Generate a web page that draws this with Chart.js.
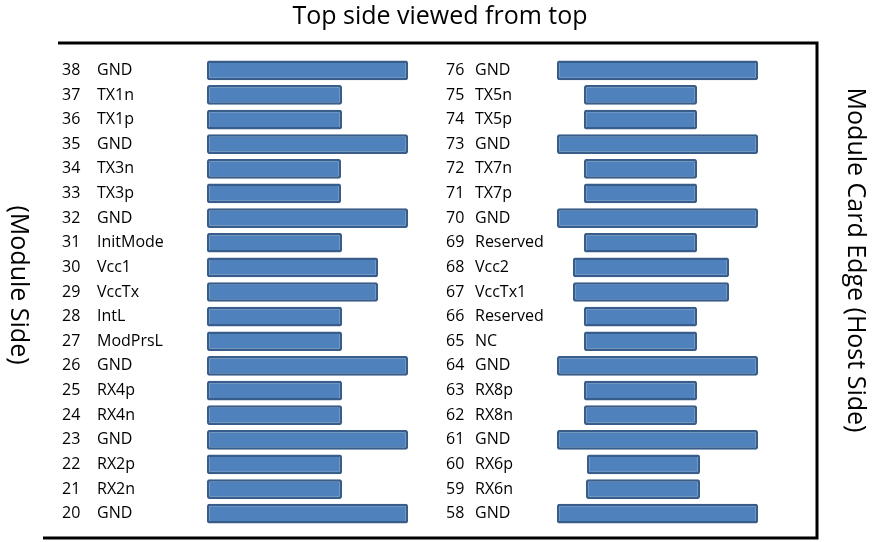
<!DOCTYPE html>
<html>
<head>
<meta charset="utf-8">
<script src="https://cdn.jsdelivr.net/npm/chart.js@4"></script>
<style>
  html, body { margin: 0; padding: 0; background: #fff; }
  #wrap { width: 878px; height: 542px; }
</style>
</head>
<body>
<div id="wrap"><canvas id="pinChart"></canvas></div>
<script>
// pins listed top to bottom
const leftPins = ['38','37','36','35','34','33','32','31','30','29','28','27','26','25','24','23','22','21','20'];
const leftNames = ['GND','TX1n','TX1p','GND','TX3n','TX3p','GND','InitMode','Vcc1','VccTx','IntL','ModPrsL','GND','RX4p','RX4n','GND','RX2p','RX2n','GND'];
const rightPins = ['76','75','74','73','72','71','70','69','68','67','66','65','64','63','62','61','60','59','58'];
const rightNames = ['GND','TX5n','TX5p','GND','TX7n','TX7p','GND','Reserved','Vcc2','VccTx1','Reserved','NC','GND','RX8p','RX8n','GND','RX6p','RX6n','GND'];

// pad extents along the card (same units as the picture width)
const leftPads = [[207,408],[207,342],[207,342],[207,408],[207,341],[207,341],[207,408],[207,342],[207,378],[207,378],[207,342],[207,342],[207,408],[207,342],[207,342],[207,408],[207,342],[207,342],[207,408]];
const rightPads = [[557,758],[584,697],[584,697],[557,758],[584,697],[584,697],[557,758],[584,697],[573,729],[573,729],[584,697],[584,697],[557,758],[584,697],[584,697],[557,758],[587,700],[586,700],[557,758]];

const rows = leftPins.map((p, i) => i);

const textPlugin = {
  id: 'pinText',
  afterDraw(chart) {
    const c = chart.ctx;
    const y = chart.scales.y;
    c.save();
    c.fillStyle = '#000';
    c.font = '16px "Open Sans", sans-serif';
    c.textBaseline = 'middle';
    rows.forEach(i => {
      const yy = y.getPixelForValue(i);
      c.fillText(leftPins[i], 62, yy);
      c.fillText(leftNames[i], 97, yy);
      c.fillText(rightPins[i], 446, yy);
      c.fillText(rightNames[i], 475, yy);
    });
    // frame
    c.strokeStyle = '#000';
    c.lineWidth = 3;
    c.beginPath();
    c.moveTo(58, 43); c.lineTo(817, 43); c.lineTo(817, 538); c.lineTo(43, 538);
    c.stroke();
    // titles
    c.font = '25px "Open Sans", sans-serif';
    c.textAlign = 'center';
    c.fillText('Top side viewed from top', 440, 17);
    c.translate(855, 260);
    c.rotate(Math.PI / 2);
    c.fillText('Module Card Edge (Host Side)', 0, 0);
    c.restore();
    c.save();
    c.font = '25px "Open Sans", sans-serif';
    c.textAlign = 'center';
    c.textBaseline = 'middle';
    c.translate(18, 285);
    c.rotate(Math.PI / 2);
    c.fillText('(Module Side)', 0, 0);
    c.restore();
  }
};

const barStyle = {
  backgroundColor: '#4f81bd',
  borderColor: '#385d8a',
  borderWidth: 2.5,
  borderRadius: 2,
  borderSkipped: false,
  barPercentage: 0.8,
  categoryPercentage: 1,
  grouped: false
};

new Chart(document.getElementById('pinChart'), {
  type: 'bar',
  data: {
    labels: leftPins,
    datasets: [
      Object.assign({ label: 'Left', data: leftPads }, barStyle),
      Object.assign({ label: 'Right', data: rightPads }, barStyle)
    ]
  },
  options: {
    indexAxis: 'y',
    responsive: true,
    maintainAspectRatio: false,
    animation: false,
    layout: { padding: { top: 58, bottom: 16, left: 0, right: 0 } },
    scales: {
      x: { type: 'linear', min: 0, max: 878, display: false },
      y: { display: false, offset: true }
    },
    plugins: { legend: { display: false }, tooltip: { enabled: false } }
  },
  plugins: [textPlugin]
});
</script>
</body>
</html>
